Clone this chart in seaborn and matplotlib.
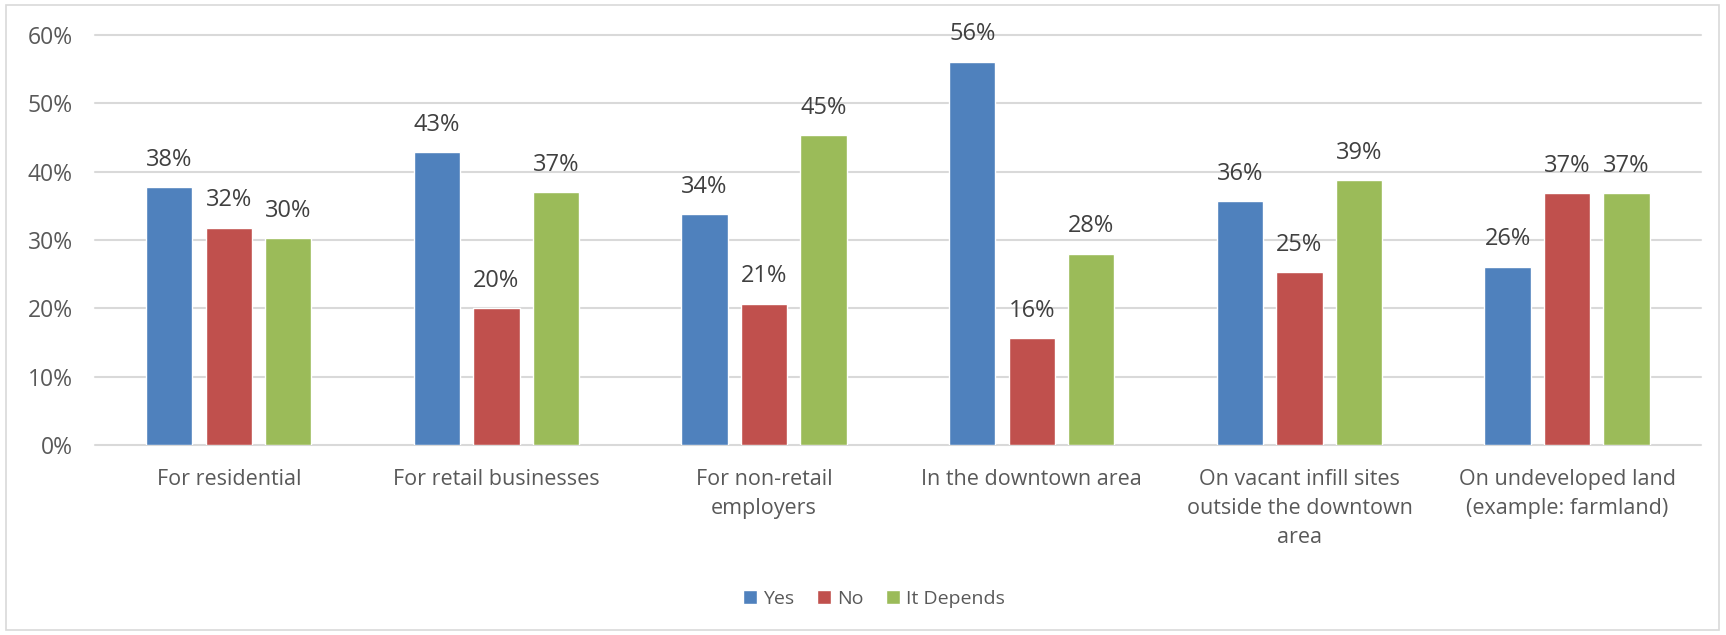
import matplotlib
matplotlib.use("Agg")
import matplotlib.pyplot as plt
import seaborn as sns
import pandas as pd
from matplotlib.patches import Rectangle
from matplotlib.ticker import FuncFormatter

categories = [
    "For residential",
    "For retail businesses",
    "For non-retail\nemployers",
    "In the downtown area",
    "On vacant infill sites\noutside the downtown\narea",
    "On undeveloped land\n(example: farmland)",
]
series = ["Yes", "No", "It Depends"]
yes_vals = [37.7, 42.9, 33.8, 56.1, 35.7, 26.1]
no_vals = [31.8, 20.0, 20.7, 15.7, 25.3, 36.9]
depends_vals = [30.3, 37.0, 45.3, 28.0, 38.8, 36.9]
colors = ["#4F81BD", "#C0504D", "#9BBB59"]

rows = []
for name, vals in zip(series, [yes_vals, no_vals, depends_vals]):
    for c, v in zip(categories, vals):
        rows.append({"category": c, "series": name, "value": v / 100})
df = pd.DataFrame(rows)

sns.set_theme(style="white")
plt.rcParams["font.family"] = ["Open Sans", "DejaVu Sans"]

fig = plt.figure(figsize=(17.26, 6.35), dpi=100)
ax = fig.add_axes([0.055, 0.299, 0.9305, 0.646])

sns.barplot(data=df, x="category", y="value", hue="series", order=categories,
            hue_order=series, palette=colors, width=0.667, gap=0.222,
            saturation=1, ax=ax, zorder=3, errorbar=None)

ax.set_ylim(0, 0.6)
ax.set_xlim(-0.5, 5.5)
ax.set_yticks([0, 0.1, 0.2, 0.3, 0.4, 0.5, 0.6])
ax.yaxis.set_major_formatter(FuncFormatter(lambda v, p: f"{v*100:.0f}%"))
ax.grid(axis="y", color="#D9D9D9", linewidth=1.5, zorder=0)
for gl in ax.get_ygridlines():
    gl.set_clip_on(False)
for s in ["top", "right", "left", "bottom"]:
    ax.spines[s].set_visible(False)
ax.set_xlabel("")
ax.set_ylabel("")
ax.tick_params(axis="both", length=0, colors="#595959")
ax.tick_params(axis="x", pad=17, labelsize=15.5)
ax.tick_params(axis="y", pad=16, labelsize=16.5)
for lab in ax.get_xticklabels():
    lab.set_linespacing(1.5)

for cont in ax.containers:
    ax.bar_label(cont, labels=[f"{b.get_height()*100:.0f}%" for b in cont],
                 padding=11, fontsize=17, color="#404040")

leg = ax.legend(loc="center", bbox_to_anchor=(0.485, -0.375), ncol=3, frameon=False,
                fontsize=14, handlelength=0.75, handleheight=0.75, handletextpad=0.3,
                columnspacing=1.15)
for t in leg.get_texts():
    t.set_color("#595959")

fig.patches.append(Rectangle((0.0035, 0.008), 0.9925, 0.984, transform=fig.transFigure,
                             fill=False, edgecolor="#D9D9D9", linewidth=1.2))

fig.savefig("out.png", dpi=100)
